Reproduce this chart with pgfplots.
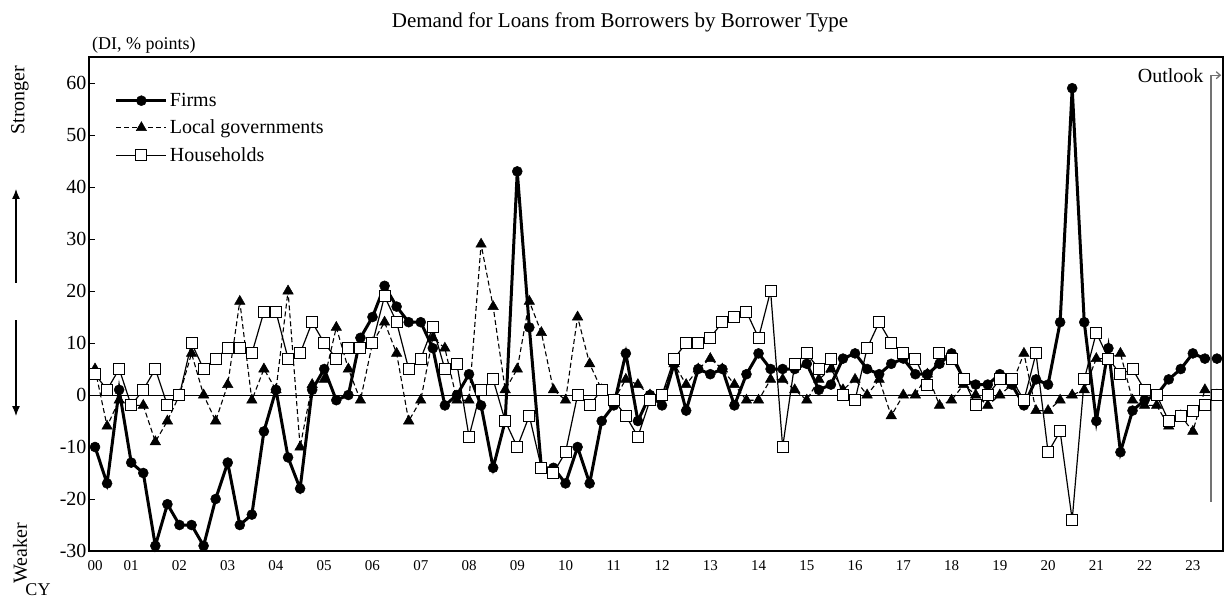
\documentclass[border=0pt]{standalone}
\usepackage{fontspec}
\setmainfont{Liberation Serif}
\usepackage{pgfplots}
\usepackage{pgfplotstable}
\pgfplotsset{compat=1.18}
\usetikzlibrary{arrows.meta}

% quarterly DI, index 0 = first survey quarter
\pgfplotstableread{
i firms lg hh
0 -10 5 4
1 -17 -6 1
2 1 -1 5
3 -13 -2 -2
4 -15 -2 1
5 -29 -9 5
6 -21 -5 -2
7 -25 0 0
8 -25 8 10
9 -29 0 5
10 -20 -5 7
11 -13 2 9
12 -25 18 9
13 -23 -1 8
14 -7 5 16
15 1 1 16
16 -12 20 7
17 -18 -10 8
18 1 2 14
19 5 3 10
20 -1 13 7
21 0 5 9
22 11 -1 9
23 15 10 10
24 21 14 19
25 17 8 14
26 14 -5 5
27 14 -1 7
28 9 11 13
29 -2 9 5
30 0 -1 6
31 4 -1 -8
32 -2 29 1
33 -14 17 3
34 -5 1 -5
35 43 5 -10
36 13 18 -4
37 -14 12 -14
38 -14 1 -15
39 -17 -1 -11
40 -10 15 0
41 -17 6 -2
42 -5 1 1
43 -2 -1 -1
44 8 3 -4
45 -5 2 -8
46 0 0 -1
47 -2 0 0
48 6 6 7
49 -3 2 10
50 5 5 10
51 4 7 11
52 5 5 14
53 -2 2 15
54 4 -1 16
55 8 -1 11
56 5 3 20
57 5 3 -10
58 5 1 6
59 6 -1 8
60 1 3 5
61 2 5 7
62 7 1 0
63 8 3 -1
64 5 0 9
65 4 3 14
66 6 -4 10
67 7 0 8
68 4 0 7
69 4 4 2
70 6 -2 8
71 8 -1 7
72 3 2 3
73 2 0 -2
74 2 -2 0
75 4 0 3
76 2 2 3
77 -2 8 -1
78 3 -3 8
79 2 -3 -11
80 14 -1 -7
81 59 0 -24
82 14 1 3
83 -5 7 12
84 9 7 7
85 -11 8 4
86 -3 -1 5
87 -1 -2 1
88 0 -2 0
89 3 -6 -5
90 5 -4 -4
91 8 -7 -3
92 7 1 -2
93 7 0 0
}\loans

\newcommand\lbl{\fontsize{20}{24}\selectfont}

\begin{document}
\begin{tikzpicture}
\begin{axis}[
  scale only axis, width=1134pt, height=494pt,
  xmin=-0.5, xmax=93.5, ymin=-30, ymax=65,
  axis line style={line width=1.5pt},
  ytick={-30,-20,-10,0,10,20,30,40,50,60},
  yticklabels={-30,-20,-10,0,10,20,30,40,50,60},
  xtick={0,3,7,11,15,19,23,27,31,35,39,43,47,51,55,59,63,67,71,75,79,83,87,91},
  xticklabels={00,01,02,03,04,05,06,07,08,09,10,11,12,13,14,15,16,17,18,19,20,21,22,23},
  tick pos=left, tick align=inside, major tick length=6pt,
  xtick style={draw=none},
  ytick style={line width=1pt, black},
  yticklabel style={font=\lbl, xshift=1pt},
  xticklabel style={font=\fontsize{15}{17}\selectfont, yshift=-6pt},
  clip=false,
  legend style={at={(0.02,0.935)}, anchor=north west, draw=none, fill=none,
    font=\lbl, row sep=8pt},
  legend cell align=left,
  legend image code/.code={\draw[mark repeat=2,mark phase=2] plot coordinates {(0pt,0pt) (25pt,0pt) (50pt,0pt)};},
]
\draw[line width=0.8pt] (axis cs:-0.5,0) -- (axis cs:93.5,0);
\addplot[black, line width=3pt, mark=*, mark size=5pt, mark options={solid,line width=0.5pt}]
  table[x=i, y=firms] {\loans};
\addplot[black, line width=1.1pt, dash pattern=on 5pt off 3pt, mark=triangle*, mark size=6pt, mark options={solid,line width=0.5pt}]
  table[x=i, y=lg] {\loans};
\addplot[black, line width=1.2pt, mark=square*, mark size=5.5pt, mark options={solid,fill=white,line width=1pt}]
  table[x=i, y=hh] {\loans};
\legend{Firms, Local governments, Households}
\draw[black!55, line width=1.3pt, -{Straight Barb[length=4pt,width=7pt]}]
  (axis cs:92.5,-20.5) -- (axis cs:92.5,61.5) -- (axis cs:93.35,61.5);
\node[anchor=east, inner sep=0pt, font=\lbl] at (axis cs:91.9,61.5) {Outlook};
\end{axis}
\path (-89pt,-52pt) rectangle (1136pt,551pt);
\node[font=\fontsize{21}{25}\selectfont] at (531pt,529pt) {Demand for Loans from Borrowers by Borrower Type};
\node[font=\fontsize{18}{22}\selectfont, anchor=west, inner sep=0pt] at (3pt,506pt) {(DI, \% points)};
\node[font=\lbl, rotate=90] at (-69pt,451pt) {Stronger};
\node[font=\lbl, rotate=90] at (-69pt,-2pt) {Weaker};
\draw[line width=1.2pt, -{Latex[length=10pt,width=8pt]}] (-73pt,268pt) -- (-73pt,362pt);
\draw[line width=1.2pt, -{Latex[length=10pt,width=8pt]}] (-73pt,231pt) -- (-73pt,135pt);
\node[font=\fontsize{18}{22}\selectfont] at (-51pt,-39pt) {CY};
\end{tikzpicture}
\end{document}
